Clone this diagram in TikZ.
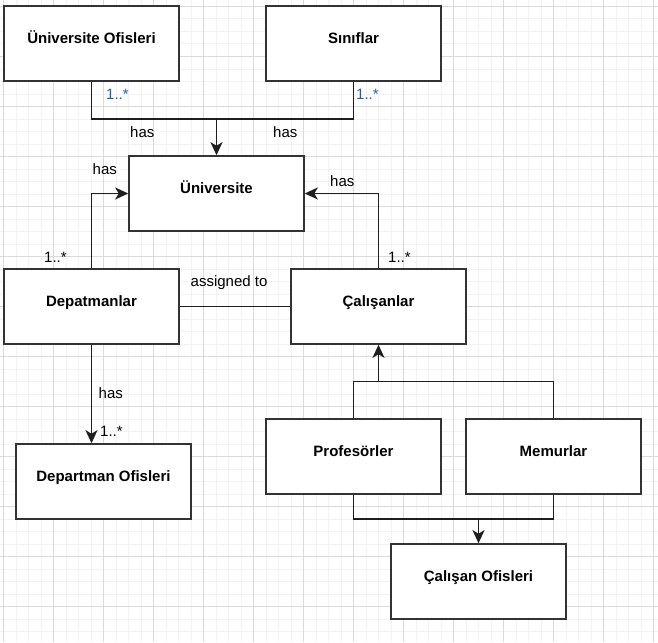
\documentclass[tikz,border=0pt]{standalone}
\usepackage{fontspec}
\setmainfont{Liberation Sans}
\usetikzlibrary{arrows.meta}
\definecolor{gridminor}{HTML}{F2F2F2}
\definecolor{gridmajor}{HTML}{DADADA}
\definecolor{edgecol}{HTML}{1E1E1E}
\definecolor{boxcol}{HTML}{333333}
\definecolor{multblue}{HTML}{2060A8}
\tikzset{
  classbox/.style={draw=boxcol, line width=1.6pt, fill=white, rectangle,
    minimum width=175pt, minimum height=75pt, inner sep=0pt,
    text height=6pt, text depth=6pt,
    font=\fontsize{15}{18}\selectfont\bfseries},
  link/.style={draw=edgecol, line width=1.5pt},
  arr/.style={link, -{Stealth[length=13pt,width=12pt,inset=3.5pt]}},
  lbl/.style={anchor=base west, inner sep=0pt, font=\fontsize{15}{18}\selectfont},
  mult/.style={lbl},
  multtop/.style={lbl, text=multblue}
}
\begin{document}
\begin{tikzpicture}[x=1pt,y=-1pt]
  % canvas and background grid
  \fill[white] (0,0) rectangle (658,642);
  \useasboundingbox (0,0) rectangle (658,642);
  \foreach \i in {0,...,52} {
    \draw[gridminor, line width=1pt] ({3.5+12.5*\i},0) -- ({3.5+12.5*\i},642);
  }
  \foreach \j in {0,...,51} {
    \draw[gridminor, line width=1pt] (0,{6.5+12.5*\j}) -- (658,{6.5+12.5*\j});
  }
  \foreach \i in {0,...,13} {
    \draw[gridmajor, line width=1pt] ({3.5+50*\i},0) -- ({3.5+50*\i},642);
  }
  \foreach \j in {0,...,12} {
    \draw[gridmajor, line width=1pt] (0,{6.5+50*\j}) -- (658,{6.5+50*\j});
  }

  % classes
  \node[classbox] (uo)   at (91.5,43.5)   {Üniversite Ofisleri};
  \node[classbox] (sin)  at (353.5,43.5)  {Sınıflar};
  \node[classbox] (uni)  at (216.5,193.5) {Üniversite};
  \node[classbox] (dep)  at (91.5,306.5)  {Depatmanlar};
  \node[classbox] (cal)  at (378.5,306.5) {Çalışanlar};
  \node[classbox] (dof)  at (103.5,481.5) {Departman Ofisleri};
  \node[classbox] (prof) at (353.5,456.5) {Profesörler};
  \node[classbox] (mem)  at (553.5,456.5) {Memurlar};
  \node[classbox] (cof)  at (478.5,581.5) {Çalışan Ofisleri};

  % junction points of the merged connectors
  \coordinate (jtop) at (216.5,119);
  \coordinate (jemp) at (378.5,381.5);
  \coordinate (joff) at (478.5,519);

  % offices and classrooms belong to the university
  \draw[link] (sin.south) |- (jtop);
  \draw[arr] (uo.south) |- (jtop) -- (uni.north);

  % departments and employees belong to the university
  \draw[arr] (dep.north) |- (uni.west);
  \draw[arr] (cal.north) |- (uni.east);

  % employees assigned to departments
  \draw[link] (dep.east) -- (cal.west);

  % department offices
  \draw[arr] (dep.south) -- (dep.south |- dof.north);

  % professors and staff are employees
  \draw[link] (prof.north) |- (jemp) -| (mem.north);
  \draw[arr] (jemp) -- (cal.south);

  % employee offices
  \draw[link] (prof.south) |- (joff) -| (mem.south);
  \draw[arr] (joff) -- (cof.north);

  % labels
  \node[multtop] (m1) at (106,99) {1..*};
  \node[multtop] (m2) at (356,99) {1..*};
  \node[lbl] (h1) at (130,137.5) {has};
  \node[lbl] (h2) at (273,137.5) {has};
  \node[lbl] (h3) at (92.5,174) {has};
  \node[mult] (m3) at (44,262) {1..*};
  \node[lbl] (h4) at (330,186.7) {has};
  \node[mult] (m4) at (388,262) {1..*};
  \node[lbl] (as) at (190.5,286.7) {assigned to};
  \node[lbl] (h5) at (98.5,398.7) {has};
  \node[mult] (m5) at (100,436.7) {1..*};
\end{tikzpicture}
\end{document}
